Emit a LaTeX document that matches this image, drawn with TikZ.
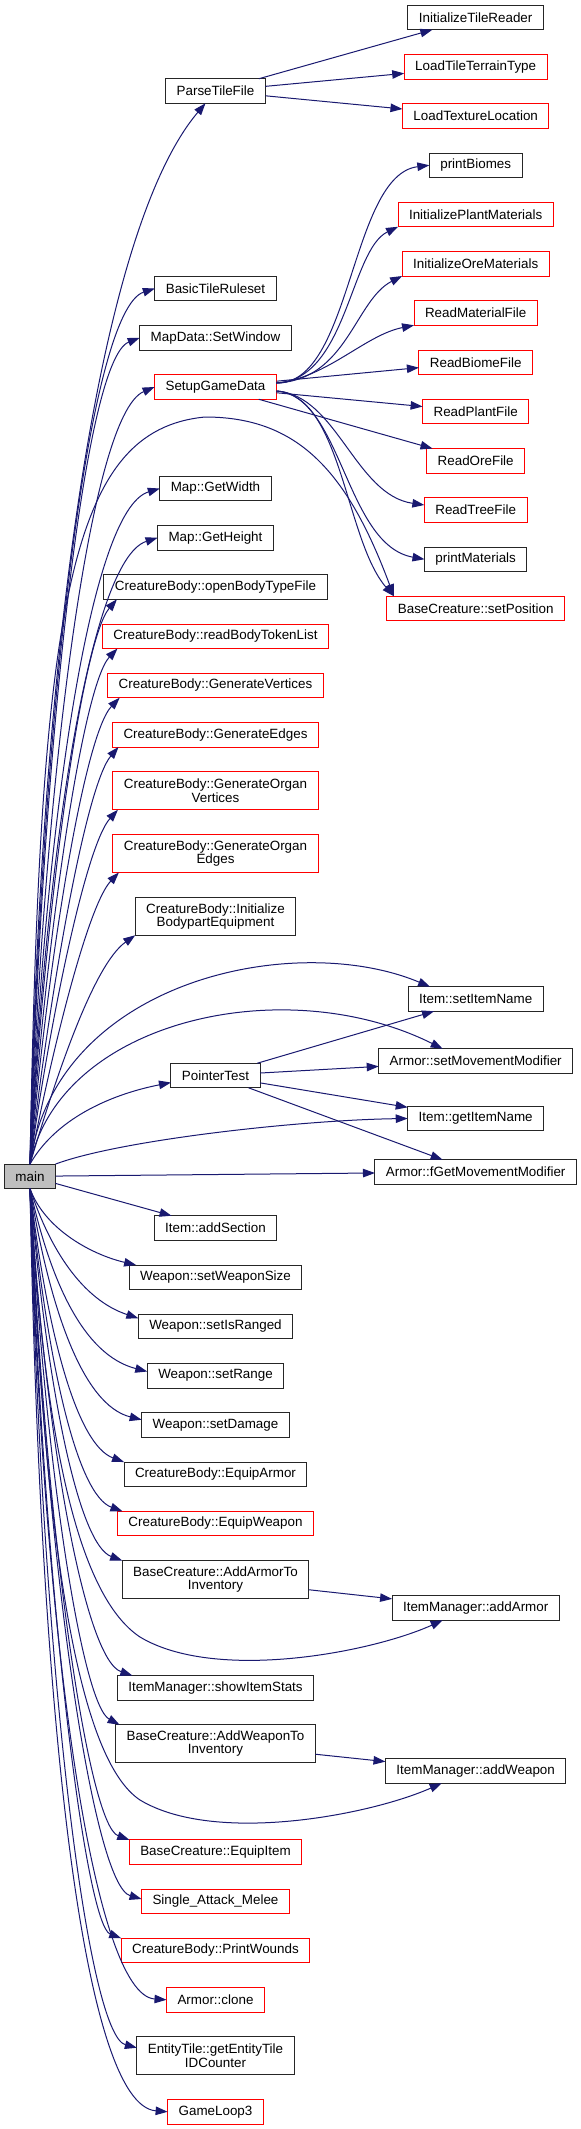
\documentclass[tikz,border=0pt]{standalone}
\usepackage{fontspec}
\setmainfont{Liberation Sans}
\usetikzlibrary{positioning,arrows.meta}
\definecolor{edgeblue}{RGB}{25,25,112}
\definecolor{nodered}{RGB}{255,0,0}
\definecolor{rootgray}{RGB}{191,191,191}
\tikzset{
  fn/.style={draw=black!85, line width=1pt, fill=white, align=center,
             minimum height=24.5pt, inner xsep=11pt, inner ysep=2pt, outer sep=0pt,
             font=\fontsize{13.4}{13.2}\selectfont},
  fnred/.style={fn, draw=nodered},
  root/.style={fn, fill=rootgray},
  two/.style={minimum height=38pt},
  call/.style={-{Triangle[length=12pt,width=8.5pt]}, line width=1pt, draw=edgeblue},
}

\begin{document}
\begin{tikzpicture}[x=1pt, y=-1pt, node distance=24.75pt]
  \useasboundingbox[fill=white] (0,0) rectangle (581,2129);

  \node[root] (main) at (30,1176.3) {main};

  % called from main
  \node[fn] (parse) at (215.5,91) {ParseTileFile};
  \node[fn, below=173pt of parse] (basic) {BasicTileRuleset};
  \node[fn, below=of basic] (setwindow) {MapData::SetWindow};
  \node[fnred, below=of setwindow] (setup) {SetupGameData};
  \node[fn, below=77pt of setup] (getwidth) {Map::GetWidth};
  \node[fn, below=of getwidth] (getheight) {Map::GetHeight};
  \node[fn, below=of getheight] (openbody) {CreatureBody::openBodyTypeFile};
  \node[fnred, below=of openbody] (readtoken) {CreatureBody::readBodyTokenList};
  \node[fnred, below=of readtoken] (genvert) {CreatureBody::GenerateVertices};
  \node[fnred, below=of genvert] (genedges) {CreatureBody::GenerateEdges};
  \node[fnred, two, below=of genedges] (organvert) {CreatureBody::GenerateOrgan\\Vertices};
  \node[fnred, two, below=of organvert] (organedges) {CreatureBody::GenerateOrgan\\Edges};
  \node[fn, two, below=of organedges] (bodypart) {CreatureBody::Initialize\\BodypartEquipment};
  \node[fn, below=128pt of bodypart] (pointer) {PointerTest};
  \node[fn, below=128pt of pointer] (addsec) {Item::addSection};
  \node[fn, below=of addsec] (wsize) {Weapon::setWeaponSize};
  \node[fn, below=of wsize] (wranged) {Weapon::setIsRanged};
  \node[fn, below=of wranged] (wrange) {Weapon::setRange};
  \node[fn, below=of wrange] (wdamage) {Weapon::setDamage};
  \node[fn, below=of wdamage] (equiparmor) {CreatureBody::EquipArmor};
  \node[fnred, below=of equiparmor] (equipweapon) {CreatureBody::EquipWeapon};
  \node[fn, two, below=of equipweapon] (addarmorinv) {BaseCreature::AddArmorTo\\Inventory};
  \node[fn, below=77pt of addarmorinv] (showstats) {ItemManager::showItemStats};
  \node[fn, two, below=of showstats] (addweaponinv) {BaseCreature::AddWeaponTo\\Inventory};
  \node[fnred, below=77pt of addweaponinv] (equipitem) {BaseCreature::EquipItem};
  \node[fnred, below=of equipitem] (melee) {Single\_Attack\_Melee};
  \node[fnred, below=of melee] (wounds) {CreatureBody::PrintWounds};
  \node[fnred, below=of wounds] (clone) {Armor::clone};
  \node[fn, two, below=of clone] (entityid) {EntityTile::getEntityTile\\IDCounter};
  \node[fnred, below=of entityid] (gameloop) {GameLoop3};

  % third level
  \node[fn] (inittile) at (475.7,17.5) {InitializeTileReader};
  \node[fnred, below=of inittile] (loadterrain) {LoadTileTerrainType};
  \node[fnred, below=of loadterrain] (loadtexture) {LoadTextureLocation};
  \node[fn, below=of loadtexture] (printbiomes) {printBiomes};
  \node[fnred, below=of printbiomes] (initplant) {InitializePlantMaterials};
  \node[fnred, below=of initplant] (initore) {InitializeOreMaterials};
  \node[fnred, below=of initore] (readmat) {ReadMaterialFile};
  \node[fnred, below=of readmat] (readbiome) {ReadBiomeFile};
  \node[fnred, below=of readbiome] (readplant) {ReadPlantFile};
  \node[fnred, below=of readplant] (readore) {ReadOreFile};
  \node[fnred, below=of readore] (readtree) {ReadTreeFile};
  \node[fn, below=of readtree] (printmat) {printMaterials};
  \node[fnred, below=of printmat] (setpos) {BaseCreature::setPosition};
  \node[fn] (setname) at (475.7,999) {Item::setItemName};
  \node[fn, below=37.5pt of setname] (setmove) {Armor::setMovementModifier};
  \node[fn, below=33pt of setmove] (getname) {Item::getItemName};
  \node[fn, below=29pt of getname] (fgetmove) {Armor::fGetMovementModifier};
  \node[fn] (addarmor) at (475.7,1608) {ItemManager::addArmor};
  \node[fn] (addweapon) at (475.7,1771) {ItemManager::addWeapon};

  % main, upwards
  \draw[call] (main.north) .. controls (40,650) and (98,230) .. ([xshift=-10pt]parse.south);
  \draw[call] (main.north) .. controls (41,720) and (88,310) .. (basic.west);
  \draw[call] (main.north) .. controls (42,760) and (83,360) .. (setwindow.west);
  \draw[call] (main.north) .. controls (43,800) and (88,415) .. (setup.west);
  \draw[call] (main.north) .. controls (44,840) and (88,510) .. (getwidth.west);
  \draw[call] (main.north) .. controls (45,870) and (88,560) .. (getheight.west);
  \draw[call] (main.north) .. controls (46,900) and (82,640) .. ([xshift=13pt]openbody.south west);
  \draw[call] (main.north) .. controls (47,930) and (83,685) .. ([xshift=15pt]readtoken.south west);
  \draw[call] (main.north) .. controls (48,960) and (84,735) .. ([xshift=12pt]genvert.south west);
  \draw[call] (main.north) .. controls (50,990) and (86,785) .. ([xshift=6pt]genedges.south west);
  \draw[call] (main.north) .. controls (50,1020) and (86,845) .. ([xshift=5pt]organvert.south west);
  \draw[call] (main.north) .. controls (52,1050) and (88,905) .. ([xshift=6pt]organedges.south west);
  \draw[call] (main.north) .. controls (55,1080) and (93,965) .. (bodypart.south west);
  \draw[call] (main.north) .. controls (55,1120) and (108,1095) .. ([yshift=-7pt]pointer.west);
  \draw[call] (main.north) .. controls (55,980) and (295,930) .. ([xshift=22pt]setname.north west);
  \draw[call] (main.north) .. controls (60,1020) and (285,970) .. ([xshift=64pt]setmove.north west);
  \draw[call] (main.north east) .. controls (120,1140) and (300,1120) .. (getname.west);
  \draw[call] (main) -- (fgetmove);
  \draw[call] (main.north) .. controls (40,600) and (70,430) .. (205,417)
    .. controls (297,417) and (347,470) .. ([xshift=7pt]setpos.north west);

  % main, downwards
  \draw[call] (main) -- (addsec);
  \draw[call] (main.south) .. controls (45,1230) and (93,1255) .. ([xshift=7pt]wsize.north west);
  \draw[call] (main.south) .. controls (50,1250) and (83,1300) .. ([yshift=-4pt]wranged.north west);
  \draw[call] (main.south) .. controls (50,1280) and (83,1355) .. ([yshift=-8pt]wrange.north west);
  \draw[call] (main.south) .. controls (50,1310) and (83,1405) .. ([yshift=-7pt]wdamage.north west);
  \draw[call] (main.south) .. controls (48,1340) and (78,1445) .. (equiparmor.north west);
  \draw[call] (main.south) .. controls (48,1370) and (78,1495) .. ([xshift=5pt]equipweapon.north west);
  \draw[call] (main.south) .. controls (48,1400) and (80,1545) .. (addarmorinv.north west);
  \draw[call] (main.south) .. controls (46,1450) and (86,1660) .. ([xshift=15pt]showstats.north west);
  \draw[call] (main.south) .. controls (46,1480) and (83,1705) .. ([xshift=4pt]addweaponinv.north west);
  \draw[call] (main.south) .. controls (45,1530) and (88,1825) .. (equipitem.north west);
  \draw[call] (main.south) .. controls (45,1560) and (93,1885) .. ([yshift=-10pt]melee.north west);
  \draw[call] (main.south) .. controls (44,1600) and (86,1925) .. (wounds.north west);
  \draw[call] (main.south) .. controls (43,1640) and (93,1995) .. (clone.west);
  \draw[call] (main.south) .. controls (42,1680) and (88,2035) .. ([yshift=-11pt]entityid.north west);
  \draw[call] (main.south) .. controls (40,1720) and (83,2105) .. (gameloop.west);
  \draw[call] (main.south) .. controls (45,1450) and (80,1597) .. (140,1637)
    .. controls (215,1682) and (370,1653) .. ([xshift=-33pt]addarmor.south);
  \draw[call] (main.south) .. controls (45,1560) and (80,1760) .. (140,1800)
    .. controls (215,1845) and (370,1815) .. ([xshift=-34pt]addweapon.south);

  % second level calls
  \foreach \t in {inittile,loadterrain,loadtexture}
    \draw[call] (parse) -- (\t);
  \draw[call] ([yshift=4pt]setup.east) .. controls (352,385) and (350,175) .. (printbiomes.west);
  \draw[call] ([yshift=4pt]setup.east) .. controls (347,380) and (350,250) .. (initplant.south west);
  \draw[call] ([yshift=4pt]setup.east) .. controls (347,380) and (355,300) .. (initore.south west);
  \draw[call] ([yshift=4pt]setup.east) .. controls (327,378) and (365,335) .. (readmat.south west);
  \draw[call] (setup) -- (readbiome);
  \draw[call] (setup) -- (readplant);
  \draw[call] (setup) -- (readore);
  \draw[call] ([yshift=-4pt]setup.east) .. controls (337,395) and (355,495) .. ([yshift=5pt]readtree.west);
  \draw[call] ([yshift=-4pt]setup.east) .. controls (342,395) and (345,545) .. (printmat.west);
  \draw[call] ([yshift=-4pt]setup.east) .. controls (342,395) and (345,540) .. ([xshift=7pt]setpos.north west);
  \foreach \t in {setname,setmove,getname,fgetmove}
    \draw[call] (pointer) -- (\t);
  \draw[call] (addarmorinv) -- (addarmor);
  \draw[call] (addweaponinv) -- (addweapon);
\end{tikzpicture}
\end{document}
